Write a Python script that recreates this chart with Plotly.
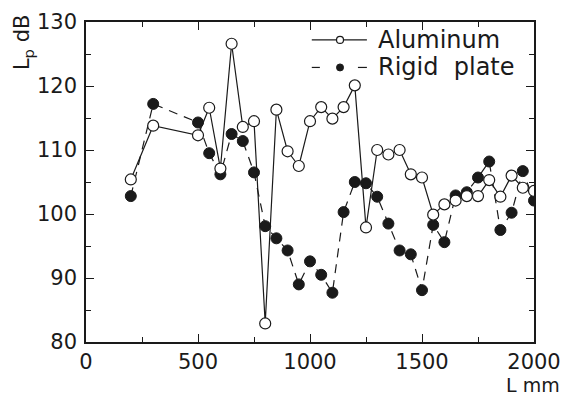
import plotly.graph_objects as go

# Sound pressure level vs. length L
length_mm = [200, 300, 500, 550, 600, 650, 700, 750, 800, 850, 900, 950, 1000,
             1050, 1100, 1150, 1200, 1250, 1300, 1350, 1400, 1450, 1500, 1550,
             1600, 1650, 1700, 1750, 1800, 1850, 1900, 1950, 2000]

aluminum_db = [105.4, 113.8, 112.3, 116.6, 107.1, 126.6, 113.6, 114.5, 82.9,
               116.3, 109.8, 107.5, 114.5, 116.7, 114.9, 116.7, 120.1, 97.9,
               110.0, 109.3, 110.0, 106.2, 105.7, 99.9, 101.5, 102.1, 102.8,
               102.8, 105.3, 102.7, 106.0, 104.1, 103.6]

rigid_db = [102.8, 117.2, 114.3, 109.5, 106.2, 112.5, 111.4, 106.5, 98.1, 96.2,
            94.3, 89.0, 92.6, 90.5, 87.7, 100.3, 105.0, 104.8, 102.7, 98.5,
            94.3, 93.7, 88.1, 98.3, 95.6, 102.9, 103.4, 105.7, 108.2, 97.5,
            100.2, 106.7, 102.1]

series_names = ["Aluminum", "Rigid  plate"]

x_ticks = [0, 500, 1000, 1500, 2000]
y_ticks = [80, 90, 100, 110, 120, 130]

FONT = "DejaVu Sans"
INK = "#1a1a1a"
LINE_W = 1.2

fig = go.Figure()

fig.add_trace(go.Scatter(
    x=length_mm, y=rigid_db, name=series_names[1], mode="lines+markers",
    line=dict(color=INK, width=LINE_W, dash="9px,7px"),
    marker=dict(symbol="circle", size=11, color=INK,
                line=dict(color=INK, width=1)),
    showlegend=False,
))

fig.add_trace(go.Scatter(
    x=length_mm, y=aluminum_db, name=series_names[0], mode="lines+markers",
    line=dict(color=INK, width=LINE_W),
    marker=dict(symbol="circle", size=11, color="white",
                line=dict(color=INK, width=1.2)),
    showlegend=False,
))

# Key drawn on an overlay axis spanning the plot area (0..1 in both directions)
key_rows = [0.944, 0.858]
key_x0, key_x1, key_mid = 0.504, 0.627, 0.567

fig.add_trace(go.Scatter(
    x=[key_x0, key_x1], y=[key_rows[0]] * 2, mode="lines",
    line=dict(color=INK, width=LINE_W), xaxis="x2", yaxis="y2",
    hoverinfo="skip", showlegend=False,
))
fig.add_trace(go.Scatter(
    x=[key_mid], y=[key_rows[0]], mode="markers",
    marker=dict(symbol="circle", size=7, color="white",
                line=dict(color=INK, width=1.2)),
    xaxis="x2", yaxis="y2", hoverinfo="skip", showlegend=False,
))
fig.add_trace(go.Scatter(
    x=[key_x0, key_x0 + 0.018, None, key_x1 - 0.02, key_x1],
    y=[key_rows[1]] * 2 + [None] + [key_rows[1]] * 2, mode="lines",
    line=dict(color=INK, width=LINE_W), xaxis="x2", yaxis="y2",
    hoverinfo="skip", showlegend=False,
))
fig.add_trace(go.Scatter(
    x=[key_mid], y=[key_rows[1]], mode="markers",
    marker=dict(symbol="circle", size=7, color=INK,
                line=dict(color=INK, width=1)),
    xaxis="x2", yaxis="y2", hoverinfo="skip", showlegend=False,
))

axis_common = dict(
    showgrid=False, zeroline=False, automargin=False,
    showline=True, linecolor=INK, linewidth=1.6, mirror="ticks",
    ticks="inside", ticklen=8, tickwidth=1.3, tickcolor=INK,
    tickfont=dict(family=FONT, size=21, color=INK),
)

annotations = [
    dict(text=name, xref="paper", yref="paper", x=0.647, y=row,
         xanchor="left", yanchor="middle", showarrow=False,
         font=dict(family=FONT, size=24, color=INK))
    for name, row in zip(series_names, key_rows)
]
annotations += [
    dict(text="L<sub>p</sub> dB", xref="paper", yref="paper",
         x=-0.14, y=0.935, xanchor="center", yanchor="middle",
         textangle=-90, showarrow=False,
         font=dict(family=FONT, size=21, color=INK)),
    dict(text="L mm", xref="paper", yref="paper",
         x=1.06, y=-0.171, xanchor="right", yanchor="bottom",
         showarrow=False, borderpad=0,
         font=dict(family=FONT, size=19, color=INK)),
]

fig.update_layout(
    width=564, height=398,
    margin=dict(l=86, r=30, t=22, b=56),
    paper_bgcolor="white", plot_bgcolor="white",
    showlegend=False,
    xaxis=dict(
        range=[0, 2000], tickvals=x_ticks, ticklabelstandoff=0,
        minor=dict(dtick=250, ticks="inside", ticklen=5, tickcolor=INK),
        **axis_common,
    ),
    yaxis=dict(
        range=[80, 130], tickvals=y_ticks, ticklabelstandoff=3,
        minor=dict(dtick=5, ticks="inside", ticklen=5, tickcolor=INK),
        **axis_common,
    ),
    xaxis2=dict(range=[0, 1], overlaying="x", visible=False, fixedrange=True),
    yaxis2=dict(range=[0, 1], overlaying="y", visible=False, fixedrange=True),
    annotations=annotations,
)

fig.write_html("out.html")
